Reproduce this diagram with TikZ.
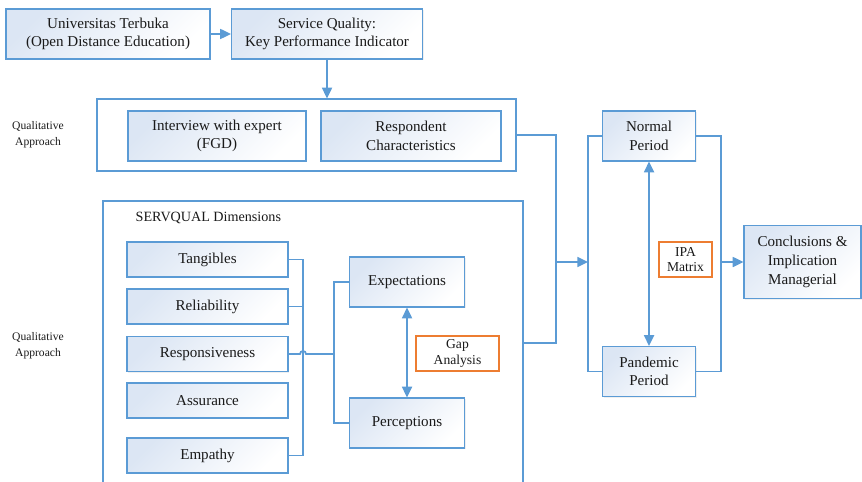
\documentclass[tikz,border=0pt]{standalone}
\usepackage{fontspec}
\setmainfont{Liberation Serif}
\usepackage{tikz}
\usetikzlibrary{arrows.meta,shadows}
\definecolor{linkblue}{HTML}{5B9BD5}
\definecolor{boxtint}{HTML}{DCE6F4}
\definecolor{gaporange}{HTML}{ED7D31}
\definecolor{inktext}{HTML}{1A1A1A}

\begin{document}
\begin{tikzpicture}[
  x=0.75pt, y=-0.75pt,
  >={Triangle[length=8pt,width=7.5pt]},
  stage/.style={draw=linkblue, line width=0.9pt, top color=boxtint, bottom color=white, shading angle=45,
    drop shadow={shadow xshift=0.8pt, shadow yshift=-0.8pt, opacity=0.12},
    align=center, inner sep=0pt, text=inktext, font=\fontsize{11.3}{14}\selectfont},
  frame/.style={draw=linkblue, line width=0.9pt, fill=white, inner sep=0pt},
  tag/.style={draw=gaporange, line width=0.9pt, fill=white, align=center, inner sep=0pt, text=inktext, font=\fontsize{10.2}{11.5}\selectfont},
  side/.style={align=center, text=inktext, font=\fontsize{8.7}{12}\selectfont},
  link/.style={draw=linkblue, line width=1.3pt}
]
  \path[use as bounding box] (0,0) rectangle (862,481);
  \clip (0,0) rectangle (862,481);

  % Containers
  \node[frame, minimum width=314.25pt, minimum height=54pt] (qual) at (306.5,135) {};
  \node[frame, minimum width=315pt, minimum height=213pt] (serv) at (313,343) {};
  \node[anchor=west, text=inktext, font=\fontsize{10.6}{12}\selectfont] (servlbl) at (131,218) {SERVQUAL Dimensions};
  \node[side] (sidetop) at (38,135) {Qualitative\\Approach};
  \node[side] (sidebot) at (38,346) {Qualitative\\Approach};

  % Top row
  \node[stage, minimum width=153pt, minimum height=37.5pt] (uni) at (108,34) {Universitas Terbuka\\(Open Distance Education)};
  \node[stage, minimum width=143.25pt, minimum height=37.5pt] (sq) at (327,34) {Service Quality:\\Key Performance Indicator};
  \node[stage, minimum width=133.5pt, minimum height=37.5pt] (intv) at (217,136) {Interview with expert\\(FGD)};
  \node[stage, minimum width=135pt, minimum height=37.5pt] (resc) at (411,136) {Respondent\\Characteristics};

  % SERVQUAL dimensions
  \foreach \name/\yy/\txt in {tang/259.5/Tangibles, rel/306.5/Reliability, resp/354/Responsiveness, assu/400.5/Assurance, emp/455.5/Empathy}
    \node[stage, minimum width=120.75pt, minimum height=26.25pt] (\name) at (207.5,\yy) {\txt};
  \node[stage, minimum width=86.25pt, minimum height=37.5pt] (expct) at (407,282) {Expectations};
  \node[stage, minimum width=86.25pt, minimum height=37.5pt] (percp) at (407,423) {Perceptions};
  \node[tag, minimum width=62.25pt, minimum height=26.25pt] (gap) at (457.5,353.5) {Gap\\Analysis};

  % Periods
  \node[stage, minimum width=69.75pt, minimum height=37.5pt] (normal) at (649,136) {Normal\\Period};
  \node[stage, minimum width=69.75pt, minimum height=37.5pt] (pand) at (649,371.5) {Pandemic\\Period};
  \node[tag, minimum width=39.75pt, minimum height=26.25pt] (ipa) at (685.5,259.5) {IPA\\Matrix};
  \node[stage, minimum width=87.75pt, minimum height=54.75pt] (concl) at (802.5,262) {Conclusions \&\\Implication\\Managerial};

  % bus lines
  \coordinate (dimbus) at (303,0);
  \coordinate (gapbus) at (334,0);
  \coordinate (midbus) at (556,0);
  \coordinate (leftbus) at (588,0);
  \coordinate (rightbus) at (721,0);

  % Connectors
  \draw[link, ->] (uni) -- (sq);
  \draw[link, ->] (sq.south) -- (sq.south |- qual.north);
  \draw[link] (tang.east) -| (dimbus |- emp.east) -- (emp.east);
  \draw[link] (rel.east) -- (rel.east -| dimbus);
  \draw[link] (resp.east) -- ([xshift=-2.25pt]resp.east -| dimbus) arc[start angle=180, end angle=0, radius=2.25pt] -- (resp.east -| gapbus);
  \draw[link] (expct.west) -| (gapbus |- percp.west) -- (percp.west);
  \draw[link, <->] (expct) -- (percp);
  \draw[link] (qual.east) -| (midbus |- serv.east) -- (serv.east);
  \draw[link, ->] (concl.west -| midbus) -- (concl.west -| leftbus);
  \draw[link] (normal.west) -| (leftbus |- pand.west) -- (pand.west);
  \draw[link] (normal.east) -| (rightbus |- pand.east) -- (pand.east);
  \draw[link, <->] (normal) -- (pand);
  \draw[link, ->] (concl.west -| rightbus) -- (concl.west);
\end{tikzpicture}
\end{document}
